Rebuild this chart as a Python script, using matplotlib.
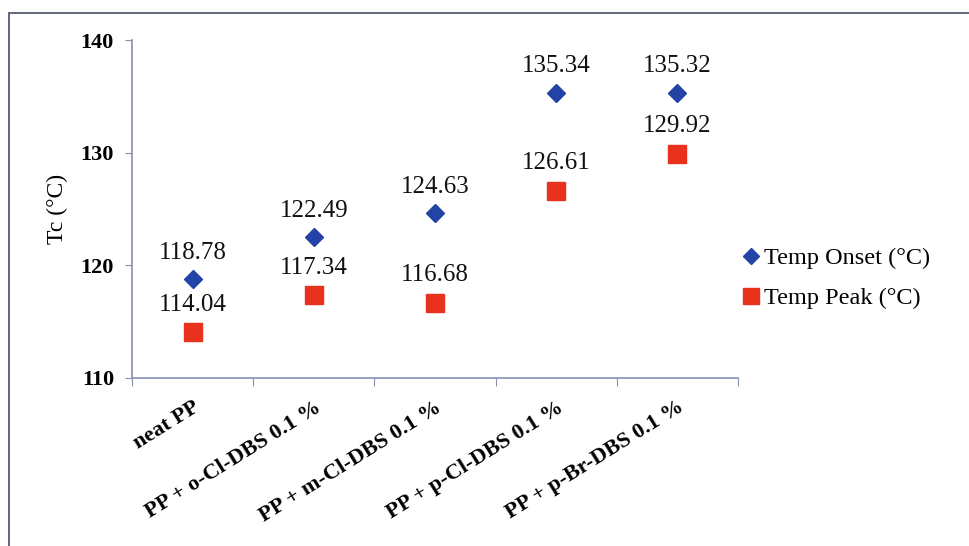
import numpy as np
import matplotlib.pyplot as plt
from matplotlib.patches import Rectangle

# 结晶温度数据
samples = ['neat PP', 'PP + o-Cl-DBS 0.1 %', 'PP + m-Cl-DBS 0.1 %',
           'PP + p-Cl-DBS 0.1 %', 'PP + p-Br-DBS 0.1 %']
temp_onset = [118.78, 122.49, 124.63, 135.34, 135.32]
temp_peak = [114.04, 117.34, 116.68, 126.61, 129.92]

plt.rcParams['font.family'] = ['Liberation Serif', 'DejaVu Serif']

fig = plt.figure(figsize=(9.69, 5.46), dpi=100)
ax = fig.add_axes([0.1362, 0.3077, 0.6254, 0.619])

# 外框（左、上两边）
fig.patches.append(Rectangle((9 / 969, -0.1), 1.2, 1 - 13 / 546 + 0.1,
                             transform=fig.transFigure, fill=False,
                             edgecolor='#55596e', linewidth=1.3))

x = np.arange(len(samples))
ax.plot(x, temp_onset, linestyle='none', marker='D', markersize=9,
        color='#2443a6', label='Temp Onset (°C)')
ax.plot(x, temp_peak, linestyle='none', marker='s', markersize=13,
        color='#e8321e', label='Temp Peak (°C)')

# 数值标签
for xi, y in zip(x, temp_onset):
    ax.annotate('%.2f' % y, (xi, y), xytext=(0, 11), textcoords='offset points',
                ha='center', va='bottom', fontsize=18, color='#111111')
for xi, y in zip(x, temp_peak):
    ax.annotate('%.2f' % y, (xi, y), xytext=(0, 12), textcoords='offset points',
                ha='center', va='bottom', fontsize=18, color='#111111')

ax.set_xlim(-0.5, len(samples) - 0.5)
ax.set_ylim(110, 140)
ax.set_yticks([110, 120, 130, 140])
ax.set_xticks(np.arange(len(samples) + 1) - 0.5)
ax.set_xticklabels([])
ax.set_xticks(x, minor=True)
ax.set_xticklabels(samples, minor=True, rotation=32, ha='right',
                   rotation_mode='anchor', fontsize=16, fontweight='bold')
ax.tick_params(axis='x', which='minor', length=0, pad=14)
ax.tick_params(axis='x', which='major', length=6, direction='out', color='#8890b0')
ax.tick_params(axis='y', length=5, direction='out', color='#8890b0',
               labelsize=16, pad=8)
for lab in ax.get_yticklabels():
    lab.set_fontweight('bold')

for side in ['top', 'right']:
    ax.spines[side].set_visible(False)
for side in ['left', 'bottom']:
    ax.spines[side].set_color('#8890b0')
    ax.spines[side].set_linewidth(1.2)

ax.set_ylabel('Tc (°C)', fontsize=17, labelpad=9)

leg = ax.legend(loc='center left', bbox_to_anchor=(0.968, 0.295), frameon=False,
                fontsize=17.5, handletextpad=0.05, handlelength=0.9,
                labelspacing=0.75, markerscale=0.9)

plt.savefig('out.png', dpi=100)
